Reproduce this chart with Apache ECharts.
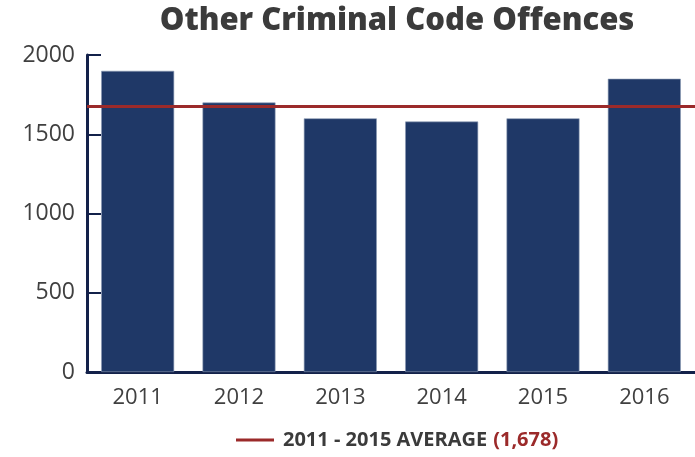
<!DOCTYPE html>
<html>
<head>
    <meta charset="UTF-8">
    <script src="https://cdn.jsdelivr.net/npm/echarts@6/dist/echarts.min.js"></script>
    <style>
        html, body { margin: 0; padding: 0; background: #fff; }
    </style>
</head>
<body>
    <div id="main" style="width: 695px; height: 457px;"></div>
    <script>
        // data
        var years = ['2011', '2012', '2013', '2014', '2015', '2016'];
        var offences = [1900, 1700, 1600, 1580, 1600, 1850];
        var average = 1678;
        var avgLabel = '2011 - 2015 AVERAGE';

        var myChart = echarts.init(document.getElementById('main'));

        var option = {
            backgroundColor: '#fff',
            animation: false,
            title: {
                text: 'Other Criminal Code Offences',
                left: 392,
                textAlign: 'center',
                top: 1,
                textStyle: {
                    fontFamily: 'Open Sans',
                    fontWeight: 800,
                    fontSize: 31,
                    color: '#3b3b3b'
                }
            },
            legend: {
                bottom: 2,
                left: 231,
                icon: 'rect',
                itemWidth: 38,
                itemHeight: 3,
                itemGap: 10,
                data: [avgLabel],
                formatter: function (name) {
                    return '{a|' + name + '}{b|(' + average.toLocaleString('en-US') + ')}';
                },
                textStyle: {
                    padding: [0, 0, 0, 4],
                    rich: {
                        a: { fontFamily: 'Open Sans', fontWeight: 700, fontSize: 20, color: '#3b3b3b' },
                        b: { fontFamily: 'Open Sans', fontWeight: 700, fontSize: 20, color: '#9b2a2a', padding: [0, 0, 0, 6] }
                    }
                }
            },
            grid: {
                left: 87,
                right: 0,
                top: 55,
                bottom: 85
            },
            xAxis: {
                type: 'category',
                data: years,
                axisLine: { lineStyle: { color: '#13214a', width: 3 } },
                axisTick: { inside: true, length: 5, lineStyle: { color: '#13214a', width: 2 } },
                axisLabel: {
                    fontFamily: 'Open Sans',
                    fontSize: 22,
                    color: '#404040',
                    margin: 15
                }
            },
            yAxis: {
                type: 'value',
                min: 0,
                max: 2000,
                interval: 500,
                splitLine: { show: false },
                axisLine: { show: true, lineStyle: { color: '#13214a', width: 3 } },
                axisTick: { show: true, inside: true, length: 14, lineStyle: { color: '#13214a', width: 2 } },
                axisLabel: {
                    fontFamily: 'Open Sans',
                    fontSize: 23,
                    color: '#404040',
                    margin: 12,
                    formatter: function (v) { return String(v); }
                }
            },
            series: [
                {
                    type: 'bar',
                    data: offences,
                    barCategoryGap: '28%',
                    itemStyle: {
                        color: '#1f3867',
                        borderColor: '#8c9ab3',
                        borderWidth: 0.6
                    },
                    z: 2
                },
                {
                    name: avgLabel,
                    type: 'line',
                    data: [],
                    itemStyle: { color: '#9b2a2a' },
                    lineStyle: { color: '#9b2a2a', width: 3 },
                    markLine: {
                        silent: true,
                        symbol: 'none',
                        label: { show: false },
                        lineStyle: { color: '#9b2a2a', width: 3, type: 'solid' },
                        data: [{ yAxis: average }]
                    },
                    z: 5
                }
            ]
        };

        myChart.setOption(option);
    </script>
</body>
</html>
